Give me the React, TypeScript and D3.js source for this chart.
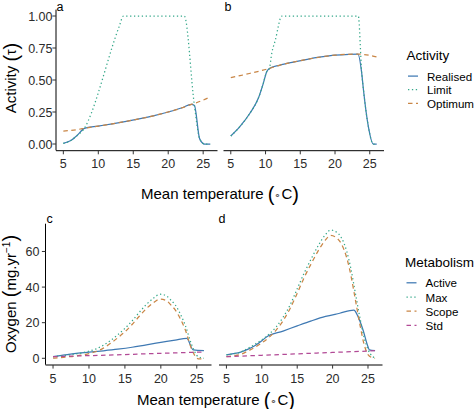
import React from "react";
import * as d3 from "d3";

type Pt = [number, number];

// ---------- Data (temperature, value) ----------
const xTicks = [5, 10, 15, 20, 25];
const activityTicks = [0, 0.25, 0.5, 0.75, 1];
const oxygenTicks = [0, 20, 40, 60];

// Panel a
const realisedA: Pt[] = [[5, 0.005], [6, 0.025], [7, 0.068], [8, 0.122], [10, 0.14], [12, 0.158], [14, 0.177], [16, 0.198], [18, 0.222], [20, 0.25], [22, 0.283], [23.3, 0.31], [23.75, 0.3], [24.5, 0.04], [25.2, 0], [26, 0]];
const limitA: Pt[] = [[5, 0.005], [6, 0.025], [7, 0.068], [8, 0.122], [9, 0.24], [10, 0.4], [11, 0.58], [12, 0.76], [13, 0.92], [13.6, 1.0], [22.3, 1.0], [23.75, 0.3], [24.5, 0.04], [25.2, 0], [26, 0]];
const optimumA: Pt[] = [[5, 0.1], [6, 0.106], [7, 0.113], [8, 0.122], [10, 0.14], [12, 0.158], [14, 0.177], [16, 0.198], [18, 0.222], [20, 0.25], [22, 0.283], [23.3, 0.31], [24, 0.322], [25, 0.343], [26, 0.368]];

// Panel b
const realisedB: Pt[] = [[5, 0.062], [6.3, 0.135], [7.75, 0.24], [8.96, 0.357], [9.68, 0.474], [10.17, 0.565], [10.55, 0.59], [12, 0.615], [14, 0.64], [16, 0.662], [18, 0.68], [20, 0.694], [22, 0.701], [23.3, 0.703], [23.85, 0.55], [24.1, 0.42], [24.8, 0.135], [25.5, 0], [26, 0]];
const limitB: Pt[] = [[5, 0.062], [6.3, 0.135], [7.75, 0.24], [8.96, 0.357], [9.68, 0.474], [10.17, 0.565], [10.55, 0.59], [10.9, 0.71], [11.4, 0.81], [12.35, 1.0], [23.35, 1.0], [23.85, 0.55], [24.1, 0.42], [24.8, 0.135], [25.5, 0], [26, 0]];
const optimumB: Pt[] = [[5, 0.518], [6, 0.53], [7, 0.542], [8, 0.555], [9, 0.568], [10, 0.582], [10.55, 0.59], [12, 0.615], [14, 0.64], [16, 0.662], [18, 0.68], [20, 0.694], [22, 0.701], [23.2, 0.703], [24, 0.7], [25, 0.692], [26, 0.68]];

// Panel c
const activeC: Pt[] = [[5, 0.9], [6, 1.5], [7, 2.1], [8.5, 2.9], [10, 3.4], [12, 4.2], [14, 5.1], [16, 6.2], [18, 7.6], [20, 8.9], [22, 10.2], [23.6, 11.2], [24.5, 4.7], [26, 4.3]];
const maxC: Pt[] = [[5, 0.9], [6, 1.3], [7, 1.8], [8, 2.3], [9, 3], [10, 4], [11, 5.3], [12, 7.3], [13, 10], [14, 13.2], [15, 16.8], [16, 21], [17, 25.8], [18, 30.3], [19, 33.8], [19.9, 36], [20.8, 35], [21.5, 32.2], [22, 30], [22.7, 25], [23.4, 18.5], [24.3, 7.5], [25.2, 0.9], [26, 0]];
const scopeC: Pt[] = [[5, 0.1], [6, 0.4], [7, 0.8], [8, 1.2], [9, 1.8], [10, 2.6], [11, 3.8], [12, 5.7], [13, 8.4], [14, 11.5], [15, 14.9], [16, 19], [17, 23.6], [18, 28], [19, 31.3], [19.9, 33.3], [20.8, 32.3], [21.5, 29.5], [22, 27.2], [22.7, 22.3], [23.4, 16], [24.3, 5], [25.2, -0.3], [26, -0.4]];
const stdC: Pt[] = [[5, 0.9], [10, 1.5], [15, 2.1], [20, 2.8], [24, 3.3], [26, 3.5]];

// Panel d
const activeD: Pt[] = [[5, 1.9], [6, 2.6], [7, 3.5], [8, 5.0], [9, 7.0], [10, 9.8], [10.65, 12], [13, 15.3], [15, 18.2], [17, 21], [19, 23.5], [21, 25.3], [23, 27.1], [23.6, 23.4], [24.3, 15.9], [25, 6.5], [25.2, 4.7], [26, 4.3]];
const maxD: Pt[] = [[5, 1.9], [6, 2.5], [7, 3.5], [8, 5.5], [9, 7.8], [10, 10.4], [11, 13.5], [12, 17.5], [13, 23], [14, 30], [15, 39], [16, 48], [17, 56], [18, 63.5], [19, 69.5], [19.7, 72], [20.5, 71], [21.2, 68], [22, 60], [22.6, 50], [23.2, 37], [23.8, 24], [24.5, 11], [25, 5], [25.7, 0.8], [26, 0.3]];
const scopeD: Pt[] = [[5, 1.0], [6, 1.4], [7, 2.2], [8, 4], [9, 6.1], [10, 8.7], [11, 11.7], [12, 15.7], [13, 21.1], [14, 28], [15, 36.5], [16, 45.5], [17, 53.3], [18, 60.6], [19, 66.5], [19.7, 69], [20.5, 67.8], [21.2, 64.6], [22, 56.4], [22.6, 46.3], [23.2, 33.3], [23.8, 20.2], [24.5, 7.1], [25, 2], [25.7, 0.2], [26, 0]];
const stdD: Pt[] = [[5, 0.9], [10, 1.7], [15, 2.5], [20, 3.3], [25, 4.1], [26, 4.3]];

const activityLabels = ["Realised", "Limit", "Optimum"];
const metabolismLabels = ["Active", "Max", "Scope", "Std"];

// ---------- Styles ----------
const FONT = "'Liberation Sans', Arial, Helvetica, sans-serif";
const BLUE = "#3F79B3";
const GREEN = "#35A88A";
const ORANGE = "#C98646";
const MAGENTA = "#B24A96";
const LW = 1.25;
const DOTTED = "1.3,2.6";
const DASHED = "4.5,3.5";

type SeriesStyle = { color: string; dash: string | null };
const activityStyles: SeriesStyle[] = [
  { color: BLUE, dash: null },
  { color: GREEN, dash: DOTTED },
  { color: ORANGE, dash: DASHED },
];
const metabolismStyles: SeriesStyle[] = [
  { color: BLUE, dash: null },
  { color: GREEN, dash: DOTTED },
  { color: ORANGE, dash: DASHED },
  { color: MAGENTA, dash: DASHED },
];

const xDomain: [number, number] = [3.95, 27.05];

type PanelProps = {
  x0: number;
  x1: number;
  y: d3.ScaleLinear<number, number>;
  series: Pt[][];
  styles: SeriesStyle[];
  label: string;
  labelX: number;
  labelY: number;
  yTicks?: number[];
  yFmt?: (v: number) => string;
  yLabelEnd?: number;
};

function Panel({ x0, x1, y, series, styles, label, labelX, labelY, yTicks, yFmt, yLabelEnd }: PanelProps) {
  const x = d3.scaleLinear().domain(xDomain).range([x0, x1]);
  const [yb, yt] = y.range();
  const line = d3
    .line<Pt>()
    .x((d) => x(d[0]))
    .y((d) => y(d[1]))
    .curve(d3.curveMonotoneX);
  const axisY = yb + 0.3;
  return (
    <g>
      {series.map((s, i) => (
        <path
          key={i}
          d={line(s) || ""}
          fill="none"
          stroke={styles[i].color}
          strokeWidth={LW}
          strokeDasharray={styles[i].dash || undefined}
          strokeLinejoin="round"
        />
      ))}
      {/* x axis */}
      <line x1={x0} x2={x1} y1={axisY} y2={axisY} stroke="#000" strokeWidth={1} />
      {xTicks.map((t) => (
        <g key={t}>
          <line x1={x(t)} x2={x(t)} y1={axisY} y2={axisY + 3.6} stroke="#333" strokeWidth={1} />
          <text x={x(t)} y={axisY + 17.6} textAnchor="middle" fontSize={12.5} fill="#2b2b2b" fontFamily={FONT}>
            {t}
          </text>
        </g>
      ))}
      {yTicks && (
        <g>
          <line x1={x0} x2={x0} y1={yt} y2={yb} stroke="#000" strokeWidth={1} />
          {yTicks.map((t) => (
            <g key={t}>
              <line x1={x0 - 3.6} x2={x0} y1={y(t)} y2={y(t)} stroke="#333" strokeWidth={1} />
              <text x={yLabelEnd} y={y(t)} dy="0.36em" textAnchor="end" fontSize={12.5} fill="#2b2b2b" fontFamily={FONT}>
                {yFmt ? yFmt(t) : String(t)}
              </text>
            </g>
          ))}
        </g>
      )}
      <text x={labelX} y={labelY} fontSize={12.5} fill="#000" fontFamily={FONT}>
        {label}
      </text>
    </g>
  );
}

function Legend({ x, y, title, labels, styles, spacing }: { x: number; y: number; title: string; labels: string[]; styles: SeriesStyle[]; spacing: number }) {
  return (
    <g fontFamily={FONT}>
      <text x={x} y={y} fontSize={13.5} fill="#000">
        {title}
      </text>
      {labels.map((l, i) => {
        const by = y + 20.6 + i * spacing;
        const ky = by - 4.5;
        return (
          <g key={l}>
            <line x1={x + 1.5} x2={x + 11.5} y1={ky} y2={ky} stroke={styles[i].color} strokeWidth={LW} strokeDasharray={styles[i].dash || undefined} />
            <text x={x + 20.5} y={by} fontSize={11.6} fill="#000">
              {l}
            </text>
          </g>
        );
      })}
    </g>
  );
}

export default function App() {
  const yTop = d3.scaleLinear().domain([-0.05, 1.05]).range([150.4, 9.6]);
  const yBot = d3.scaleLinear().domain([-3.6, 75.6]).range([364.7, 223.7]);

  return (
    <svg width={475} height={409} style={{ position: "absolute", left: 0, top: 0, background: "#fff" }} fontFamily={FONT}>
      <rect x={0} y={0} width={475} height={409} fill="#fff" />
      {/* Top row */}
      <Panel x0={56} x1={217.5} y={yTop} series={[realisedA, limitA, optimumA]} styles={activityStyles} label="a" labelX={56.5} labelY={10.5}
        yTicks={activityTicks} yFmt={(v) => v.toFixed(2)} yLabelEnd={52.5} />
      <Panel x0={223.5} x1={384} y={yTop} series={[realisedB, limitB, optimumB]} styles={activityStyles} label="b" labelX={224.5} labelY={10.5} />
      {/* Bottom row */}
      <Panel x0={45.5} x1={211.5} y={yBot} series={[activeC, maxC, scopeC, stdC]} styles={metabolismStyles} label="c" labelX={46.5} labelY={223.3}
        yTicks={oxygenTicks} yLabelEnd={39.5} />
      <Panel x0={219} x1={382.5} y={yBot} series={[activeD, maxD, scopeD, stdD]} styles={metabolismStyles} label="d" labelX={218.5} labelY={222.7} />

      {/* Axis titles */}
      <text x={220} y={199} textAnchor="middle" fontSize={15} fill="#000">
        Mean temperature <tspan fontSize={20} dy={1.5}>(</tspan><tspan fontSize={11} dy={-1.5} fill="#555">∘</tspan><tspan fontSize={15}>C</tspan><tspan fontSize={20} dy={1.5}>)</tspan>
      </text>
      <text x={216} y={405} textAnchor="middle" fontSize={15} fill="#000">
        Mean temperature <tspan fontSize={20} dy={1.5}>(</tspan><tspan fontSize={11} dy={-1.5} fill="#555">∘</tspan><tspan fontSize={15}>C</tspan><tspan fontSize={20} dy={1.5}>)</tspan>
      </text>
      <text transform="translate(16,78) rotate(-90)" textAnchor="middle" fontSize={15} fill="#000">
        Activity <tspan fontSize={20} dy={1.5}>(</tspan><tspan fontSize={14} dy={-1.5}>τ</tspan><tspan fontSize={20} dy={1.5}>)</tspan>
      </text>
      <text transform="translate(15.5,294) rotate(-90)" textAnchor="middle" fontSize={15} fill="#000">
        Oxygen <tspan fontSize={20} dy={1.5}>(</tspan><tspan fontSize={15} dy={-1.5}>mg.yr</tspan><tspan fontSize={10} dy={-6}>−1</tspan><tspan fontSize={20} dy={7.5}>)</tspan>
      </text>

      {/* Legends */}
      <Legend x={406.5} y={60} title="Activity" labels={activityLabels} styles={activityStyles} spacing={13.6} />
      <Legend x={405} y={266.7} title="Metabolism" labels={metabolismLabels} styles={metabolismStyles} spacing={14.2} />
    </svg>
  );
}
